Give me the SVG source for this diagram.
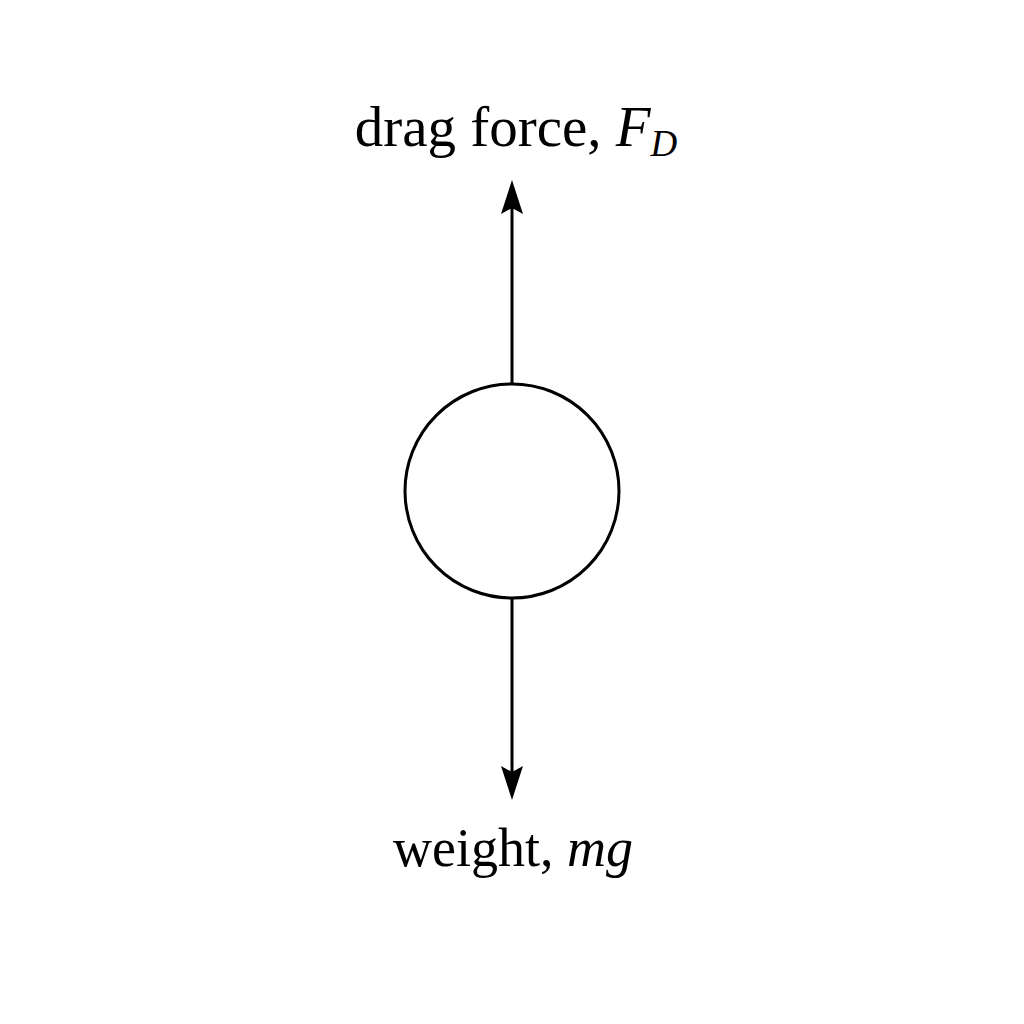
<svg xmlns="http://www.w3.org/2000/svg" width="1024" height="1024" viewBox="0 0 1024 1024">
<style>
.lbl{font-family:"Liberation Serif","Times New Roman",serif;fill:#000}
.conn{stroke:#000;stroke-width:3;fill:none}
</style>
<defs>
<marker id="ah" viewBox="0 0 34 22" refX="6" refY="11" markerWidth="34" markerHeight="22" markerUnits="userSpaceOnUse" orient="auto">
<path d="M0,0 L34,11 L0,22 L6,11 z" fill="#000"/>
</marker>
</defs>
<rect width="1024" height="1024" fill="#fff"/>
<g id="connectors">
<line class="conn" x1="512" y1="384" x2="512" y2="208" marker-end="url(#ah)"/>
<line class="conn" x1="512" y1="599" x2="512" y2="772" marker-end="url(#ah)"/>
</g>
<g id="ball">
<circle cx="512" cy="491" r="107" fill="#fff" stroke="#000" stroke-width="3"/>
</g>
<g id="drag-label">
<text class="lbl" x="516" y="146" font-size="57" text-anchor="middle">drag force, <tspan font-style="italic">F</tspan><tspan font-style="italic" font-size="37" dy="10">D</tspan></text>
</g>
<g id="weight-label">
<text class="lbl" x="513" y="866" font-size="54" text-anchor="middle">weight, <tspan font-style="italic">mg</tspan></text>
</g>
</svg>
